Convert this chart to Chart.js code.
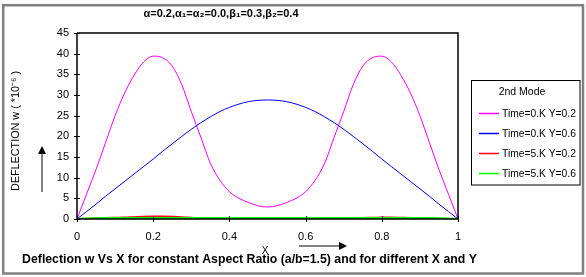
<!DOCTYPE html>
<html>
<head>
<meta charset="utf-8">
<script src="https://cdn.jsdelivr.net/npm/chart.js@4"></script>
<style>
  html, body { margin: 0; padding: 0; background: #fff; }
  #wrap { position: relative; width: 586px; height: 277px; }
</style>
</head>
<body>
<div id="wrap"><canvas id="defChart" width="586" height="277"></canvas></div>
<script>
// X positions (a/b = 1.5)
const xVals = [0, 0.025, 0.05, 0.075, 0.1, 0.125, 0.15, 0.175, 0.2, 0.225, 0.25, 0.275, 0.3, 0.325, 0.35, 0.375, 0.4, 0.425, 0.45, 0.475, 0.5,
               0.525, 0.55, 0.575, 0.6, 0.625, 0.65, 0.675, 0.7, 0.725, 0.75, 0.775, 0.8, 0.825, 0.85, 0.875, 0.9, 0.925, 0.95, 0.975, 1];

// deflection w (*10^-6)
const t0y02 = [0, 6, 12, 18.5, 25, 30.5, 34.8, 38, 39.4, 39, 37, 32.5, 26, 19.8, 13.5, 9.4, 6.6, 5, 4, 3.2, 2.9,
               3.2, 4, 5, 6.6, 9.4, 13.5, 19.8, 26, 32.5, 37, 39, 39.4, 38, 34.8, 30.5, 25, 18.5, 12, 6, 0];
const t0y06 = [0, 1.8, 3.6, 5.5, 7.3, 9.1, 10.9, 12.7, 14.5, 16.4, 18.2, 20, 21.7, 23.3, 24.7, 26, 27, 27.8, 28.4, 28.7, 28.8,
               28.7, 28.4, 27.8, 27, 26, 24.7, 23.3, 21.7, 20, 18.2, 16.4, 14.5, 12.7, 10.9, 9.1, 7.3, 5.5, 3.6, 1.8, 0];
const t5y02 = [0, 0.05, 0.15, 0.25, 0.3, 0.35, 0.45, 0.55, 0.6, 0.6, 0.55, 0.45, 0.3, 0.15, 0.05, 0, 0, 0.05, 0.1, 0.1, 0.1,
               0.1, 0.1, 0.05, 0, 0, 0, 0, 0.05, 0.15, 0.25, 0.3, 0.35, 0.35, 0.3, 0.25, 0.15, 0.1, 0.05, 0.02, 0];
const t5y06 = [0, 0.15, 0.2, 0.22, 0.24, 0.25, 0.25, 0.26, 0.26, 0.26, 0.27, 0.27, 0.27, 0.27, 0.27, 0.27, 0.27, 0.27, 0.27, 0.27, 0.27,
               0.27, 0.27, 0.27, 0.27, 0.27, 0.27, 0.27, 0.27, 0.27, 0.27, 0.26, 0.26, 0.26, 0.25, 0.25, 0.24, 0.22, 0.2, 0.15, 0];

const seriesNames = ['Time=0.K Y=0.2', 'Time=0.K Y=0.6', 'Time=5.K Y=0.2', 'Time=5.K Y=0.6'];
const seriesColors = ['#ff00ff', '#0000ff', '#ff0000', '#00ff00'];
const seriesWidths = [1, 1, 2, 2];
const seriesData = [t0y02, t0y06, t5y02, t5y06];

const xTicks = [0, 0.2, 0.4, 0.6, 0.8, 1];
const yTicks = [0, 5, 10, 15, 20, 25, 30, 35, 40, 45];

const topTitle = 'α=0.2,α₁=α₂=0.0,β₁=0.3,β₂=0.4';
const yTitle = 'DEFLECTION w ( *10⁻⁶ )';
const xTitle = 'X';
const caption = 'Deflection w Vs X for constant Aspect Ratio (a/b=1.5) and for different X and Y';
const legendTitle = '2nd Mode';

const FONT = '"Liberation Sans", Arial, sans-serif';

// pick a font size so that text fills the given width
function fitFont(ctx, text, width, weight, maxSize) {
    let size = maxSize;
    ctx.font = weight + ' ' + size + 'px ' + FONT;
    const w = ctx.measureText(text).width;
    size = Math.min(maxSize, size * width / w);
    ctx.font = weight + ' ' + size.toFixed(2) + 'px ' + FONT;
}

function arrow(ctx, x1, y1, x2, y2) {
    const ang = Math.atan2(y2 - y1, x2 - x1);
    const hl = 8, hw = 4;
    ctx.save();
    ctx.strokeStyle = '#808080';
    ctx.lineWidth = 2;
    ctx.beginPath();
    ctx.moveTo(x1, y1);
    ctx.lineTo(x2 - hl * Math.cos(ang), y2 - hl * Math.sin(ang));
    ctx.stroke();
    ctx.fillStyle = '#000';
    ctx.beginPath();
    ctx.moveTo(x2, y2);
    ctx.lineTo(x2 - hl * Math.cos(ang) + hw * Math.sin(ang), y2 - hl * Math.sin(ang) - hw * Math.cos(ang));
    ctx.lineTo(x2 - hl * Math.cos(ang) - hw * Math.sin(ang), y2 - hl * Math.sin(ang) + hw * Math.cos(ang));
    ctx.closePath();
    ctx.fill();
    ctx.restore();
}

const decorPlugin = {
    id: 'decor',
    beforeDraw(chart) {
        const ctx = chart.ctx;
        ctx.save();
        ctx.fillStyle = '#fff';
        ctx.fillRect(0, 0, chart.width, chart.height);
        ctx.restore();
    },
    afterDatasetsDraw(chart) {
        const ctx = chart.ctx;
        const a = chart.chartArea;
        const xs = chart.scales.x, ys = chart.scales.y;
        ctx.save();
        // plot box
        ctx.strokeStyle = '#000';
        ctx.lineWidth = 1.5;
        ctx.beginPath();
        ctx.moveTo(a.left, a.top);
        ctx.lineTo(a.right, a.top);
        ctx.lineTo(a.right, a.bottom);
        ctx.stroke();
        ctx.beginPath();
        ctx.moveTo(a.left, a.top);
        ctx.lineTo(a.left, a.bottom);
        ctx.lineTo(a.right, a.bottom);
        ctx.stroke();
        // crossing tick marks
        ctx.lineWidth = 1;
        yTicks.forEach(v => {
            const y = Math.round(ys.getPixelForValue(v)) + 0.5;
            ctx.beginPath();
            ctx.moveTo(a.left - 3, y);
            ctx.lineTo(a.left + 3, y);
            ctx.stroke();
        });
        xTicks.forEach(v => {
            const x = Math.round(xs.getPixelForValue(v)) + 0.5;
            ctx.beginPath();
            ctx.moveTo(x, a.bottom - 3);
            ctx.lineTo(x, a.bottom + 3);
            ctx.stroke();
        });
        ctx.restore();
    },
    afterDraw(chart) {
        const ctx = chart.ctx;
        ctx.save();
        // outer frame
        ctx.strokeStyle = '#808080';
        ctx.lineWidth = 2.5;
        ctx.strokeRect(3.2, 5.2, 579.8, 268.3);

        // top title
        ctx.fillStyle = '#000';
        ctx.font = 'bold 11px ' + FONT;
        ctx.textAlign = 'center';
        ctx.textBaseline = 'middle';
        ctx.fillText(topTitle, 221, 14);

        // y title
        ctx.save();
        ctx.translate(16, 131);
        ctx.rotate(-Math.PI / 2);
        fitFont(ctx, yTitle, 120, 'normal', 11);
        ctx.fillText(yTitle, 0, 0);
        ctx.restore();

        // x title + caption
        ctx.font = '10px ' + FONT;
        ctx.fillText(xTitle, 265, 251);
        fitFont(ctx, caption, 455, 'bold', 13);
        ctx.fillText(caption, 249.5, 260);

        // arrows
        arrow(ctx, 42, 192, 42, 146);
        arrow(ctx, 299, 246, 347, 246);

        // legend
        ctx.strokeStyle = '#000';
        ctx.lineWidth = 1;
        ctx.strokeRect(471.5, 80.5, 108.5, 104.5);
        ctx.font = '10.5px ' + FONT;
        ctx.fillText(legendTitle, 522, 92);
        ctx.textAlign = 'left';
        fitFont(ctx, seriesNames[0], 74, 'normal', 11);
        chart.data.datasets.forEach((ds, i) => {
            const y = 113 + i * 20;
            ctx.strokeStyle = ds.borderColor;
            ctx.lineWidth = 1.5;
            ctx.beginPath();
            ctx.moveTo(479, y + 0.5);
            ctx.lineTo(499, y + 0.5);
            ctx.stroke();
            ctx.fillText(ds.label, 502, y + 1);
        });
        ctx.restore();
    }
};

const datasets = seriesNames.map((name, i) => ({
    label: name,
    data: xVals.map((x, j) => ({ x: x, y: seriesData[i][j] })),
    borderColor: seriesColors[i],
    borderWidth: seriesWidths[i],
    pointRadius: 0,
    fill: false,
    cubicInterpolationMode: 'monotone',
    order: seriesNames.length - i
}));

new Chart(document.getElementById('defChart'), {
    type: 'line',
    data: { datasets },
    plugins: [decorPlugin],
    options: {
        responsive: false,
        animation: false,
        events: [],
        layout: { padding: { left: 0, top: 33, right: 128, bottom: 0 } },
        plugins: { legend: { display: false }, title: { display: false }, tooltip: { enabled: false } },
        scales: {
            x: {
                type: 'linear',
                min: 0, max: 1,
                afterFit: s => { s.height = 58; },
                afterBuildTicks: s => { s.ticks = xTicks.map(v => ({ value: v })); },
                grid: { display: false, drawTicks: false },
                border: { display: false },
                ticks: { color: '#000', font: { family: FONT, size: 11 }, padding: 11, maxRotation: 0,
                         callback: v => String(v) }
            },
            y: {
                min: 0, max: 45,
                afterFit: s => { s.width = 77; },
                afterBuildTicks: s => { s.ticks = yTicks.map(v => ({ value: v })); },
                grid: { display: false, drawTicks: false },
                border: { display: false },
                ticks: { color: '#000', font: { family: FONT, size: 11 }, padding: 8 }
            }
        }
    }
});
</script>
</body>
</html>
